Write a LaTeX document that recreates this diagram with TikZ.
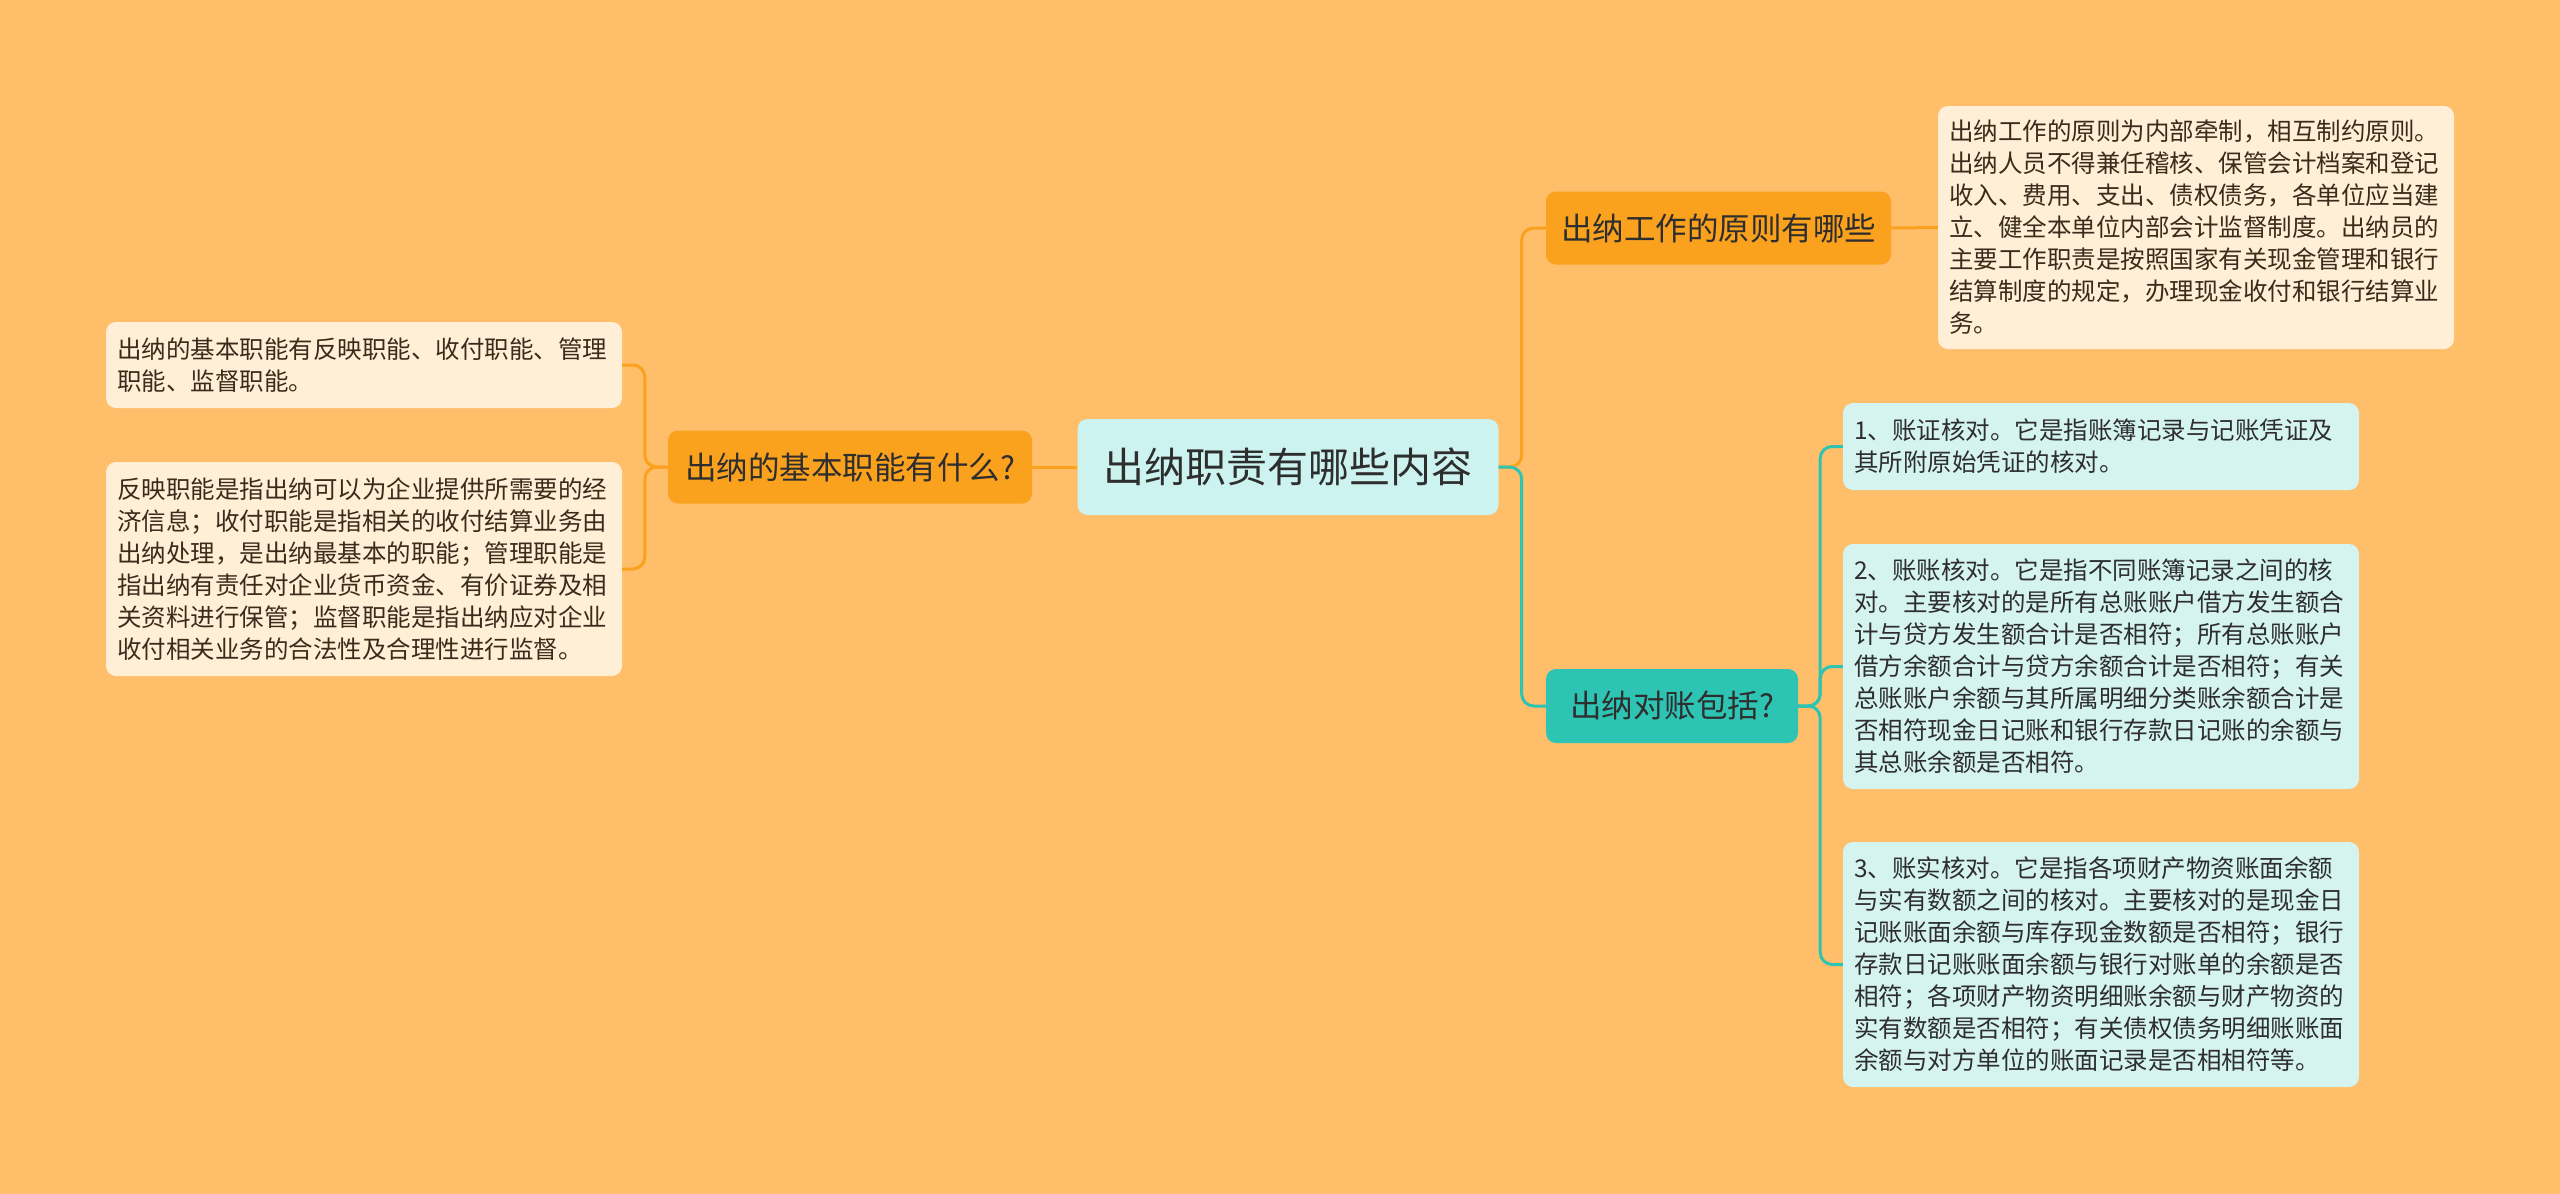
\documentclass[tikz,border=0pt]{standalone}
\usepackage{fontspec}
\setmainfont{Noto Sans CJK SC}
\definecolor{bg}{HTML}{FFBE6A}
\definecolor{orng}{HTML}{FAA11E}
\definecolor{teal2}{HTML}{2EC4B4}
\definecolor{cyanc}{HTML}{CCF3EF}
\definecolor{cyanl}{HTML}{D5F4F0}
\definecolor{cream}{HTML}{FFEFD6}
\definecolor{txt}{HTML}{2E2E2E}
\definecolor{txtb}{HTML}{3A2C1C}
\tikzset{
  box/.style={rounded corners=10pt, inner sep=0pt, align=center, text=txt},
  centralbox/.style={box, fill=cyanc, minimum width=421pt, minimum height=96pt,
    font=\fontsize{41}{48}\selectfont},
  obranch/.style={box, fill=orng, minimum height=73pt,
    font=\fontsize{31.5}{38}\selectfont},
  tbranch/.style={box, fill=teal2, minimum height=74pt,
    font=\fontsize{31.5}{38}\selectfont},
  leaf/.style={rounded corners=10pt, inner xsep=11pt, inner ysep=0pt, align=left,
    text width=494pt, font=\fontsize{24.5}{32}\selectfont},
  cleaf/.style={leaf, fill=cream, text=txtb},
  tleaf/.style={leaf, fill=cyanl, text=txt},
  oline/.style={draw=orng, line width=3pt, rounded corners=12pt},
  tline/.style={draw=teal2, line width=3pt, rounded corners=12pt},
}
\begin{document}
\begin{tikzpicture}[x=1pt,y=-1pt]
\useasboundingbox (0,0) rectangle (2560,1194);
\fill[bg] (0,0) rectangle (2560,1194);

\node[centralbox] (c) at (1288,467) {出纳职责有哪些内容};
\node[obranch, minimum width=345pt] (b1) at (1718.5,228) {出纳工作的原则有哪些};
\node[tbranch, minimum width=252pt] (b2) at (1672,706) {出纳对账包括?};
\node[obranch, minimum width=364pt] (lb) at (850,467) {出纳的基本职能有什么?};

\node[cleaf, minimum height=243pt] (t1) at (2196,227.5) {出纳工作的原则为内部牵制，相互制约原则。\\出纳人员不得兼任稽核、保管会计档案和登记\\收入、费用、支出、债权债务，各单位应当建\\立、健全本单位内部会计监督制度。出纳员的\\主要工作职责是按照国家有关现金管理和银行\\结算制度的规定，办理现金收付和银行结算业\\务。};

\node[tleaf, minimum height=87pt] (ra) at (2101,446.5) {1、账证核对。它是指账簿记录与记账凭证及\\其所附原始凭证的核对。};
\node[tleaf, minimum height=245pt] (rb) at (2101,666.5) {2、账账核对。它是指不同账簿记录之间的核\\对。主要核对的是所有总账账户借方发生额合\\计与贷方发生额合计是否相符；所有总账账户\\借方余额合计与贷方余额合计是否相符；有关\\总账账户余额与其所属明细分类账余额合计是\\否相符现金日记账和银行存款日记账的余额与\\其总账余额是否相符。};
\node[tleaf, minimum height=245pt] (rc) at (2101,964.5) {3、账实核对。它是指各项财产物资账面余额\\与实有数额之间的核对。主要核对的是现金日\\记账账面余额与库存现金数额是否相符；银行\\存款日记账账面余额与银行对账单的余额是否\\相符；各项财产物资明细账余额与财产物资的\\实有数额是否相符；有关债权债务明细账账面\\余额与对方单位的账面记录是否相相符等。};

\node[cleaf, minimum height=86pt] (l1) at (364,365) {出纳的基本职能有反映职能、收付职能、管理\\职能、监督职能。};
\node[cleaf, minimum height=214pt] (l2) at (364,569) {反映职能是指出纳可以为企业提供所需要的经\\济信息；收付职能是指相关的收付结算业务由\\出纳处理，是出纳最基本的职能；管理职能是\\指出纳有责任对企业货币资金、有价证券及相\\关资料进行保管；监督职能是指出纳应对企业\\收付相关业务的合法性及合理性进行监督。};

% connectors
\draw[oline] (c.east) -- ++(23,0) |- (b1.west);
\draw[tline] (c.east) -- ++(23,0) |- (b2.west);
\draw[oline] (b1.east) -- (t1.west);
\draw[tline] (b2.east) -- ++(22,0) |- (ra.west);
\draw[tline] (b2.east) -- ++(22,0) |- (rb.west);
\draw[tline] (b2.east) -- ++(22,0) |- (rc.west);
\draw[oline] (c.west) -- (lb.east);
\draw[oline] (lb.west) -- ++(-23,0) |- (l1.east);
\draw[oline] (lb.west) -- ++(-23,0) |- (l2.east);
\end{tikzpicture}
\end{document}
